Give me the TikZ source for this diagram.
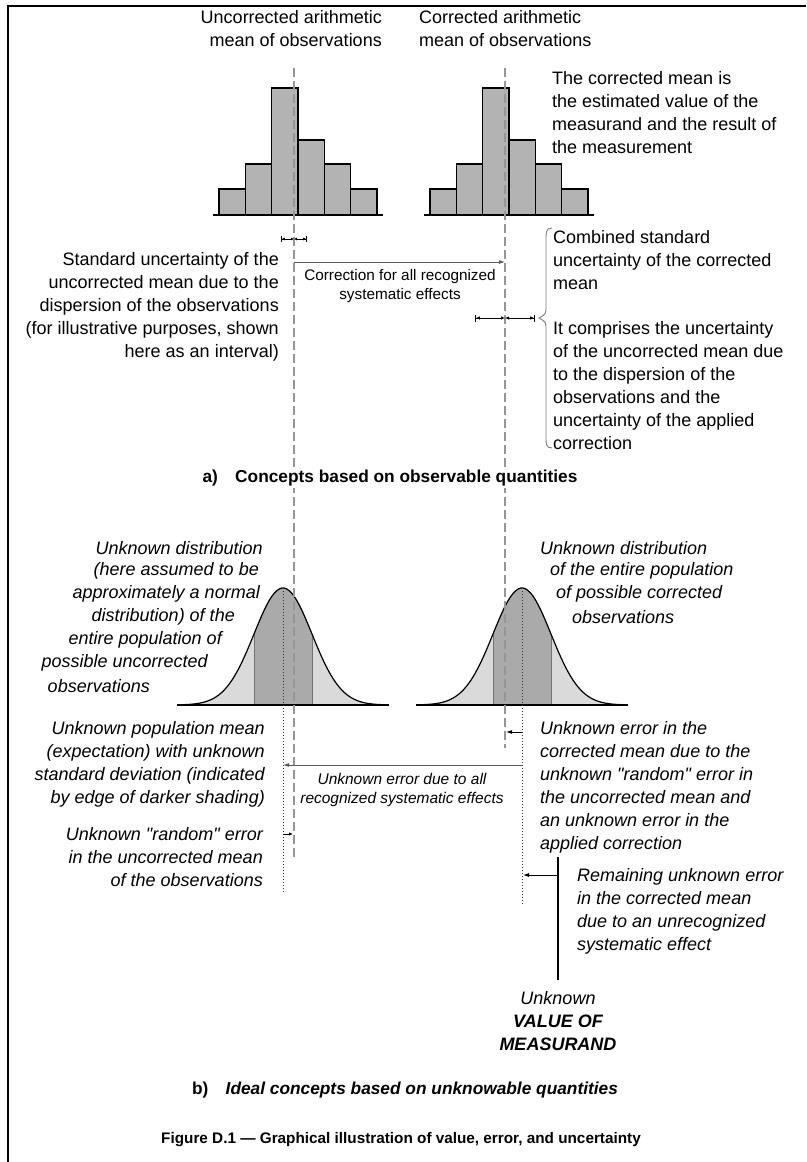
\documentclass[tikz,border=0pt]{standalone}
\usepackage{fontspec}
\setmainfont{Liberation Sans}[Ligatures=TeXOff]
\usetikzlibrary{arrows.meta,calc,positioning}
\definecolor{barfill}{RGB}{179,179,179}
\definecolor{bandlight}{RGB}{218,218,218}
\definecolor{banddark}{RGB}{170,170,170}
\definecolor{meanline}{RGB}{150,150,150}

% bell curve of the population, centred at #1
\newcommand{\bellcurve}[1]{%
  \fill[bandlight] plot[domain=-98:98,samples=80] ({#1+\x},{705-117*exp(-((\x)*(\x))/1682)}) -- cycle;
  \begin{scope}
    \clip ({#1-29},560) rectangle ({#1+29},705);
    \fill[banddark] plot[domain=-98:98,samples=80] ({#1+\x},{705-117*exp(-((\x)*(\x))/1682)}) -- cycle;
  \end{scope}
  \draw[gray!90!black] ({#1-29},634) -- ({#1-29},705) ({#1+29},634) -- ({#1+29},705);
  \draw[line width=1.2pt] plot[domain=-98:98,samples=80,smooth] ({#1+\x},{705-117*exp(-((\x)*(\x))/1682)});
  \draw[line width=1.2pt] ({#1-106},705) -- ({#1+106},705);
}

\tikzset{
  lbl/.style={font=\fontsize{18}{23}\selectfont, inner sep=0pt},
  ital/.style={font=\fontsize{18}{23}\selectfont\itshape, inner sep=0pt},
  small/.style={font=\fontsize{15.3}{19}\selectfont, inner sep=0pt},
  sectitle/.style={font=\fontsize{17.3}{20}\selectfont\bfseries, inner sep=2pt},
  meandash/.style={meanline, line width=1.2pt, dash pattern=on 9pt off 4pt},
  popdot/.style={black!80, line width=1pt, dash pattern=on 1pt off 2pt},
  errarrow/.style={-{Latex[length=6pt,width=4pt]}, line width=0.9pt},
  halfL/.style={{Bar[width=7pt]Latex[length=4pt,width=3.5pt]}-{Latex[length=4pt,width=3.5pt]}, line width=0.9pt},
  halfR/.style={{Latex[length=4pt,width=3.5pt]}-{Latex[length=4pt,width=3.5pt]Bar[width=7pt]}, line width=0.9pt},
}

\begin{document}
\begin{tikzpicture}[x=1pt,y=-1pt]
\useasboundingbox (0,0) rectangle (806,1162);
\draw[line width=1.5pt] (8,1162) -- (8,6) -- (806,6);

% a) observed histograms
\foreach \hx in {219,430}{
  \foreach \h [count=\i from 0] in {26,51,127,75,51,26}{
    \draw[fill=barfill, line width=1.2pt] ({\hx+26.33*\i},215) rectangle ++(26.33,-\h);
  }
  \draw[line width=1.2pt] ({\hx-6},215) -- ({\hx+164},215);
}

% b) populations
\bellcurve{283}
\bellcurve{522}

% mean lines
\coordinate (uncTop) at (294,68);
\coordinate (uncEnd) at (294,860);
\coordinate (corTop) at (505,68);
\coordinate (corEnd) at (505,748);
\draw[meandash] (uncTop) -- (uncEnd);
\draw[meandash] (corTop) -- (corEnd);
\coordinate (popL) at (283,588);
\coordinate (popLEnd) at (283,892);
\coordinate (popR) at (522,588);
\coordinate (popREnd) at (522,905);
\draw[popdot] (popL) -- (popLEnd);
\draw[popdot] (popR) -- (popREnd);

% titles
\node[lbl, align=right, anchor=north east] (uncTitle) at (382,10) {Uncorrected arithmetic\\mean of observations};
\node[lbl, align=left, anchor=north west] (corTitle) at (419,10) {Corrected arithmetic\\mean of observations};
\node[lbl, align=left, anchor=north west] (estimate) at (552,71) {The corrected mean is\\the estimated value of the\\measurand and the result of\\the measurement};

% intervals and correction
\coordinate (suL) at (281,239);
\coordinate (suC) at (294,239);
\coordinate (suR) at (307,239);
\draw[{Bar[width=6pt]Latex[length=3pt,width=3pt]}-{Latex[length=3pt,width=3pt]}, line width=0.8pt] (suL) -- (suC);
\draw[{Latex[length=3pt,width=3pt]}-{Latex[length=3pt,width=3pt]Bar[width=6pt]}, line width=0.8pt] (suC) -- (suR);
\coordinate (cuL) at (475,318);
\coordinate (cuC) at (505,318);
\coordinate (cuR) at (535,318);
\draw[halfL] (cuL) -- (cuC);
\draw[halfR] (cuC) -- (cuR);
\coordinate (corrA) at (294,262);
\coordinate (corrB) at (505,262);
\draw[errarrow, gray!70!black] (corrA) -- (corrB);
\node[small, align=center, anchor=north] (corrLbl) at (400,269) {Correction for all recognized\\systematic effects};

\node[lbl, align=right, anchor=north east] (stdunc) at (279,252) {Standard uncertainty of the\\uncorrected mean due to the\\dispersion of the observations\\(for illustrative purposes, shown\\here as an interval)};
\draw[gray, line width=0.9pt] (552,228) .. controls (546,228) and (546,232) .. (546,240) -- (546,306)
  .. controls (546,314) .. (539,318) .. controls (546,322) .. (546,330) -- (546,436)
  .. controls (546,444) and (546,448) .. (552,448);
\node[lbl, align=left, anchor=north west] (combined) at (553,230) {Combined standard\\uncertainty of the corrected\\mean};
\node[lbl, align=left, anchor=north west] (comprises) at (553,321) {It comprises the uncertainty\\of the uncorrected mean due\\to the dispersion of the\\observations and the\\uncertainty of the applied\\correction};

\node[sectitle, fill=white] (secA) at (390,478) {a)\quad Concepts based on observable quantities};

% b) descriptions of the populations
\foreach \ex/\ey/\txt [count=\i] in {263/548/{Unknown distribution}, 259/571/{(here assumed to be}, 260/594/{approximately a normal}, 235/617/{distribution) of the}, 222/640/{entire population of}, 208/663/{possible uncorrected}, 150/686/{observations}}{
  \node[ital, anchor=east] (uncDist\i) at (\ex,\ey) {\txt};
}
\foreach \ex/\ey/\txt [count=\i] in {540/548/{Unknown distribution}, 550/571/{of the entire population}, 556/594/{of possible corrected}, 572/617/{observations}}{
  \node[ital, anchor=west] (corDist\i) at (\ex,\ey) {\txt};
}

\node[ital, align=right, anchor=north east] (popMean) at (265,721) {Unknown population mean\\(expectation) with unknown\\standard deviation (indicated\\by edge of darker shading)};
\node[ital, align=right, anchor=north east] (randErr) at (263,827) {Unknown "random" error\\in the uncorrected mean\\of the observations};

% b) errors
\coordinate (sysA) at (522,765);
\coordinate (sysB) at (283,765);
\draw[errarrow, gray!70!black] (sysA) -- (sysB);
\node[small, font=\fontsize{15.5}{19.5}\selectfont\itshape, align=center, anchor=north] (sysLbl) at (402,773) {Unknown error due to all\\recognized systematic effects};
\coordinate (ceA) at (522,732);
\coordinate (ceB) at (506,732);
\draw[errarrow, line width=0.8pt] (ceA) -- (ceB);
\coordinate (reA) at (283,834);
\coordinate (reB) at (293,834);
\draw[-{Latex[length=4pt,width=3.5pt]}, line width=0.8pt] (reA) -- (reB);
\node[ital, align=left, anchor=north west] (corErr) at (540,721) {Unknown error in the\\corrected mean due to the\\unknown "random" error in\\the uncorrected mean and\\an unknown error in the\\applied correction};

\coordinate (valTop) at (558,857);
\coordinate (valEnd) at (558,980);
\draw[line width=1.2pt] (valTop) -- (valEnd);
\coordinate (remA) at (558,875);
\coordinate (remB) at (523,875);
\draw[errarrow, line width=0.8pt] (remA) -- (remB);
\node[ital, align=left, anchor=north west] (remErr) at (577,868) {Remaining unknown error\\in the corrected mean\\due to an unrecognized\\systematic effect};

\node[ital] (unknown) at (558,998) {Unknown};
\node[lbl, font=\fontsize{18}{23}\selectfont\bfseries\itshape, align=center, below=10pt of unknown] (value) {VALUE OF\\MEASURAND};

\node[sectitle] (secB) at (405,1090) {b)\quad\textit{Ideal concepts based on unknowable quantities}};
\node[font=\fontsize{15.3}{18}\selectfont\bfseries] (caption) at (401,1140) {Figure D.1 — Graphical illustration of value, error, and uncertainty};
\end{tikzpicture}
\end{document}
